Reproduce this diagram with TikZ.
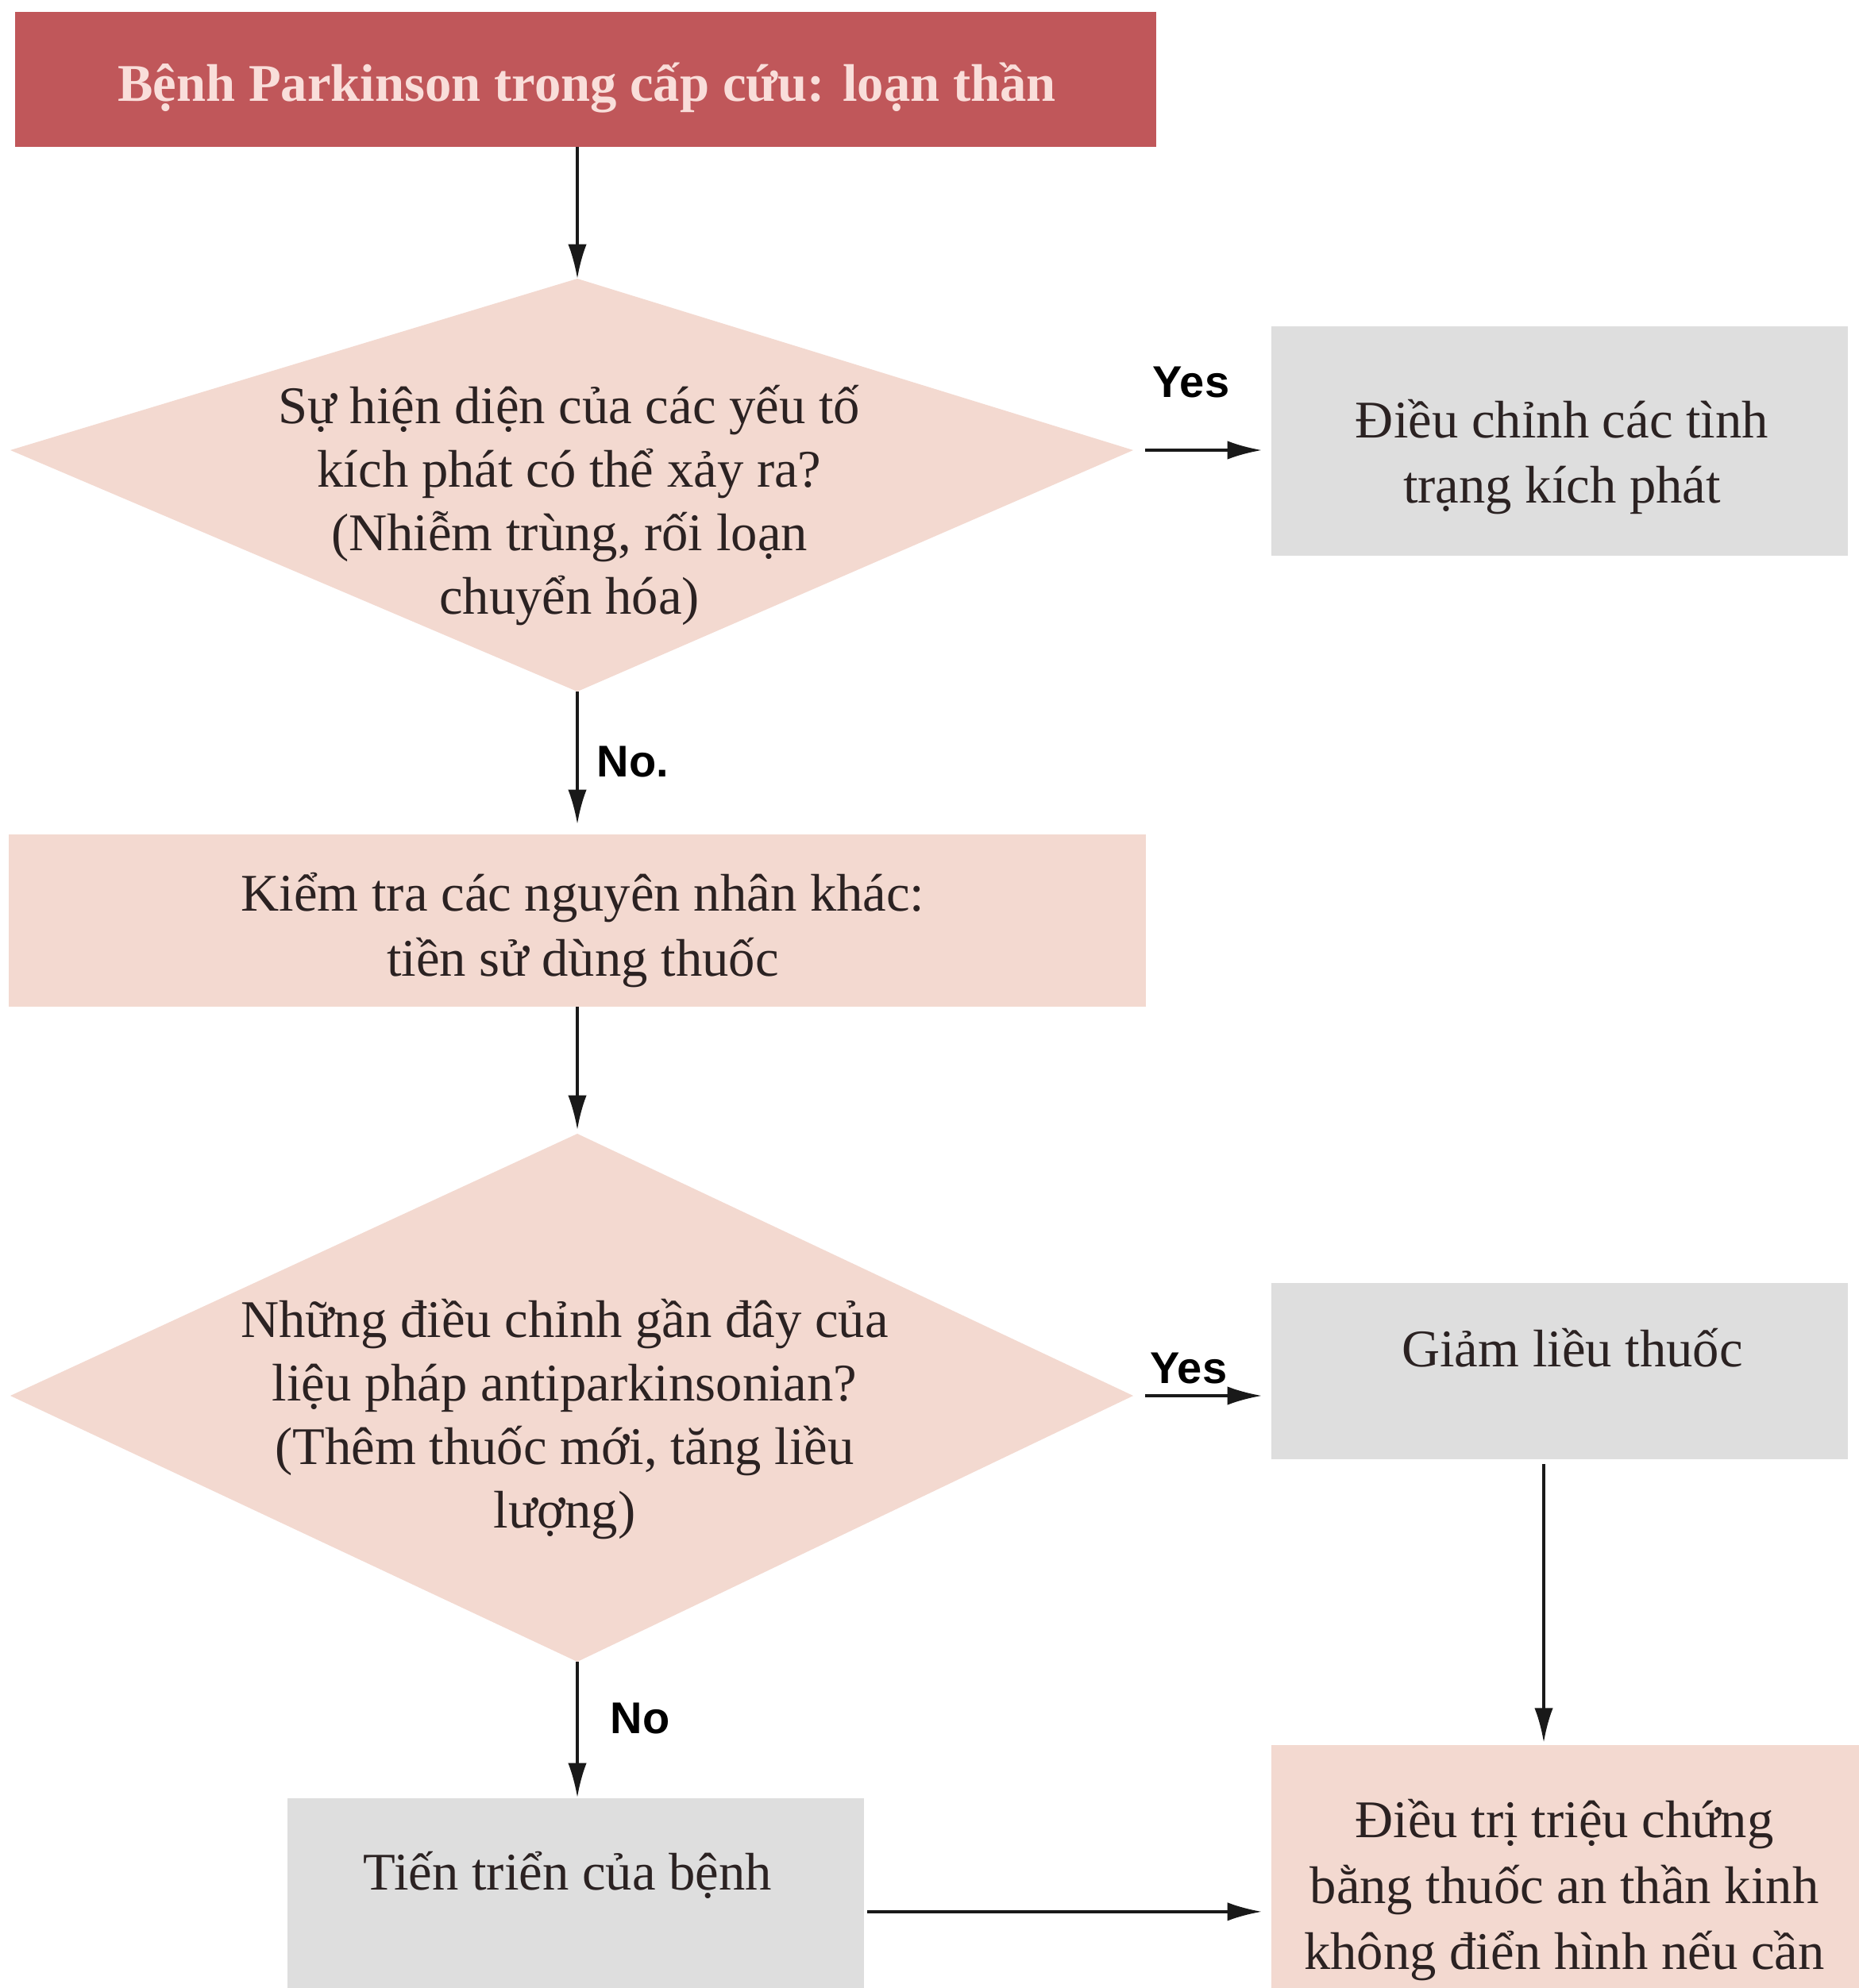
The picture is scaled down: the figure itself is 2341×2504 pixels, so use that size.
\documentclass[tikz,border=0pt]{standalone}
\usepackage{fontspec}
\setmainfont{Liberation Serif}
\newfontfamily\labelfont{Liberation Sans}
\usetikzlibrary{arrows.meta,fit}
\definecolor{titlered}{HTML}{C0575A}
\definecolor{titletext}{HTML}{F9DEDA}
\definecolor{peach}{HTML}{F3D9D0}
\definecolor{greybox}{HTML}{DEDEDE}
\definecolor{ink}{HTML}{2B2222}

\begin{document}
\begin{tikzpicture}[x=0.3pt,y=-0.3pt,
  box/.style={inner sep=0pt, outer sep=0pt, draw=none},
  % multi-line text: the base anchor sits on the last line
  txt/.style={font=\fontsize{20}{24.3}\selectfont, text=ink, align=center, anchor=base, inner sep=0pt},
  lbl/.style={font=\labelfont\bfseries\fontsize{16.8}{20}\selectfont, text=black, anchor=base west, inner sep=0pt},
  arr/.style={line width=1.05pt, draw=black!90, -{Latex[length=13pt,width=7pt]}}
]
\useasboundingbox (0,0) rectangle (2341,2504);
\fill[white] (0,0) rectangle (2341,2504);

% title bar
\node[box, fill=titlered, fit={(19,15) (1456,185)}] (title) {};
\node[font=\bfseries\fontsize{20}{24}\selectfont, text=titletext, anchor=base, inner sep=0pt] (titletxt) at (739,127) {Bệnh Parkinson trong cấp cứu: loạn thần};

% first decision
\coordinate (d1t) at (727,351);
\coordinate (d1r) at (1427,567);
\coordinate (d1b) at (727,871);
\coordinate (d1l) at (13,567);
\fill[peach] (d1t) -- (d1r) -- (d1b) -- (d1l) -- cycle;
\node[txt, font=\fontsize{20}{24}\selectfont] (d1txt) at (717,773) {Sự hiện diện của các yếu tố\\kích phát có thể xảy ra?\\(Nhiễm trùng, rối loạn\\chuyển hóa)};

% correct triggers
\node[box, fill=greybox, fit={(1601,411) (2327,700)}] (adj) {};
\node[txt, font=\fontsize{20}{24.6}\selectfont] (adjtxt) at (1967,633) {Điều chỉnh các tình\\trạng kích phát};

% other causes
\node[box, fill=peach, fit={(11,1051) (1443,1268)}] (kiem) {};
\node[txt, font=\fontsize{20}{24.6}\selectfont] (kiemtxt) at (734,1229) {Kiểm tra các nguyên nhân khác:\\tiền sử dùng thuốc};

% second decision
\coordinate (d2t) at (727,1428);
\coordinate (d2r) at (1427,1758);
\coordinate (d2b) at (727,2093);
\coordinate (d2l) at (13,1758);
\fill[peach] (d2t) -- (d2r) -- (d2b) -- (d2l) -- cycle;
\node[txt, font=\fontsize{20}{24}\selectfont] (d2txt) at (711,1924) {Những điều chỉnh gần đây của\\liệu pháp antiparkinsonian?\\(Thêm thuốc mới, tăng liều\\lượng)};

% reduce dose
\node[box, fill=greybox, fit={(1601,1616) (2327,1838)}] (giam) {};
\node[txt] (giamtxt) at (1980,1721) {Giảm liều thuốc};

% symptomatic treatment
\node[box, fill=peach, fit={(1601,2198) (2341,2504)}] (treat) {};
\node[txt, font=\fontsize{20}{24.9}\selectfont] (treattxt) at (1970,2480) {Điều trị triệu chứng\\bằng thuốc an thần kinh\\không điển hình nếu cần};

% disease progression
\node[box, fill=greybox, fit={(362,2265) (1088,2504)}] (tien) {};
\node[txt] (tientxt) at (715,2380) {Tiến triển của bệnh};

% connectors
\draw[arr] (title.south -| d1t) -- (d1t);
\draw[arr, shorten <=4.5pt, shorten >=3.6pt] (d1r) -- (d1r -| adj.west);
\draw[arr, shorten >=3.9pt] (d1b) -- (d1b |- kiem.north);
\draw[arr, shorten >=1.5pt] (kiem.south -| d2t) -- (d2t);
\draw[arr, shorten <=4.5pt, shorten >=3.6pt] (d2r) -- (d2r -| giam.west);
\draw[arr, shorten >=0.3pt] (d2b) -- (d2b |- tien.north);
\draw[arr, shorten <=1.8pt, shorten >=1pt] ([xshift=-6pt]giam.south) -- ([xshift=-6pt]giam.south |- treat.north);
\draw[arr, shorten <=1.2pt, shorten >=3.6pt] ([yshift=-7pt]tien.east) -- ([yshift=-7pt]tien.east -| treat.west);

% branch labels
\node[lbl] (yes1) at (1451,500) {Yes};
\node[lbl] (no1) at (751,978) {No.};
\node[lbl] (yes2) at (1448,1742) {Yes};
\node[lbl] (no2) at (768,2183) {No};
\end{tikzpicture}
\end{document}
